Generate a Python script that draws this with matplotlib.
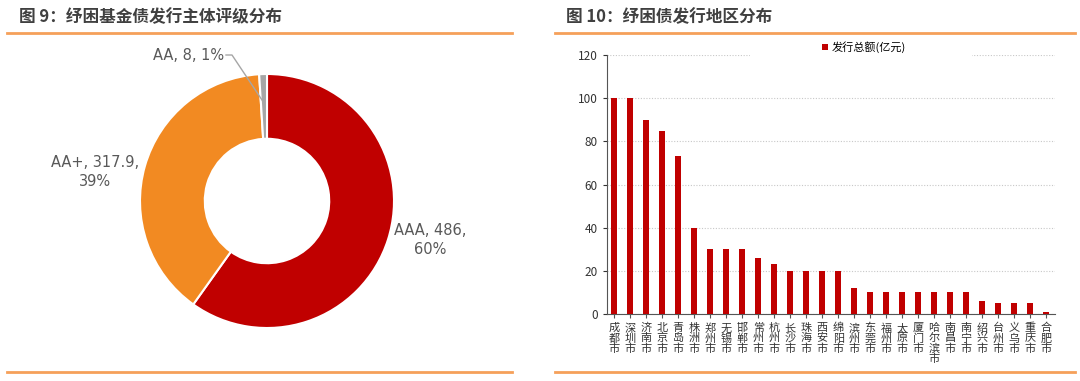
import numpy as np
import matplotlib.pyplot as plt
from matplotlib.patches import Rectangle
from matplotlib.lines import Line2D

plt.rcParams['font.family'] = ['Noto Sans CJK SC', 'DejaVu Sans']

# ------------------------------------------------------------
# data
# ------------------------------------------------------------
rating_names = ['AAA', 'AA+', 'AA']
rating_values = [486, 317.9, 8]
rating_pct = ['60%', '39%', '1%']
rating_colors = ['#C00000', '#F28A22', '#A6A6A6']

cities = ['成都市', '深圳市', '济南市', '北京市', '青岛市', '株洲市', '郑州市',
          '无锡市', '邯郸市', '常州市', '杭州市', '长沙市', '珠海市', '西安市',
          '绵阳市', '滨州市', '东莞市', '福州市', '太原市', '厦门市', '哈尔滨市',
          '南昌市', '南宁市', '绍兴市', '台州市', '义乌市', '重庆市', '合肥市']
amounts = [100, 100, 90, 85, 73, 40, 30, 30, 30, 26, 23, 20, 20, 20,
           20, 12, 10, 10, 10, 10, 10, 10, 10, 6, 5, 5, 5, 1]

W, H = 1080, 381
fig = plt.figure(figsize=(W / 100, H / 100), dpi=100)
title_c = '#404040'
line_c = '#F5A05A'


def px_axes(x0, y0, x1, y1):
    # pixel box (top-left origin) -> figure axes
    return fig.add_axes([x0 / W, 1 - y1 / H, (x1 - x0) / W, (y1 - y0) / H])


# titles and orange rules
fig.text(19 / W, 1 - 17 / H, '图 9：纾困基金债发行主体评级分布', fontsize=12,
         fontweight='bold', color=title_c, va='center', ha='left')
fig.text(566 / W, 1 - 17 / H, '图 10：纾困债发行地区分布', fontsize=12,
         fontweight='bold', color=title_c, va='center', ha='left')
for (a, b) in [(7, 512), (555, 1075)]:
    for y in (33, 372):
        fig.add_artist(Line2D([a / W, b / W], [1 - y / H, 1 - y / H],
                              color=line_c, lw=2, transform=fig.transFigure))

# ------------------------------------------------------------
# donut
# ------------------------------------------------------------
cx, cy, r = 267, 201, 127
ax1 = px_axes(cx - r, cy - r, cx + r, cy + r)
ax1.pie(rating_values, colors=rating_colors, startangle=90, counterclock=False,
        radius=1.0, wedgeprops=dict(width=0.51, edgecolor='white', linewidth=1.5))
ax1.set_xlim(-1, 1)
ax1.set_ylim(-1, 1)
ax1.set_aspect('equal')
ax1.axis('off')

lab_c = '#595959'
fig.text(430 / W, 1 - 240 / H, f'{rating_names[0]}, {rating_values[0]:g},\n{rating_pct[0]}',
         fontsize=10.5, color=lab_c, ha='center', va='center', family='DejaVu Sans',
         linespacing=1.3)
fig.text(95 / W, 1 - 172 / H, f'{rating_names[1]}, {rating_values[1]:g},\n{rating_pct[1]}',
         fontsize=10.5, color=lab_c, ha='center', va='center', family='DejaVu Sans',
         linespacing=1.3)
fig.text(189 / W, 1 - 55 / H, f'{rating_names[2]}, {rating_values[2]:g}, {rating_pct[2]}',
         fontsize=10.5, color=lab_c, ha='center', va='center', family='DejaVu Sans')
fig.add_artist(Line2D([226 / W, 232 / W, 264 / W], [1 - 55 / H, 1 - 55 / H, 1 - 103 / H],
                      color='#A6A6A6', lw=1, transform=fig.transFigure))

# ------------------------------------------------------------
# bar chart
# ------------------------------------------------------------
ax2 = px_axes(607, 55, 1055, 314)
x = np.arange(len(cities))
ax2.bar(x, amounts, width=0.4, color='#C00000', label='发行总额(亿元)', zorder=3)
ax2.set_xlim(-0.45, len(cities) - 0.45)
ax2.set_ylim(0, 120)
ax2.set_yticks(range(0, 121, 20))
ax2.tick_params(axis='y', labelsize=8.5, colors='#333333', length=3, width=0.8)
ax2.tick_params(axis='x', length=3, width=0.8, colors='#555555')
ax2.set_xticks(x)
ax2.set_xticklabels(['\n'.join(c) for c in cities], fontsize=8, color='#333333',
                    linespacing=1.0, va='top')
for lbl in ax2.get_yticklabels():
    lbl.set_color('#333333')
ax2.yaxis.grid(True, ls=(0, (1, 1.5)), color='#C8C8C8', lw=0.8, zorder=0)
for s in ['top', 'right']:
    ax2.spines[s].set_visible(False)
ax2.spines['left'].set_color('#555555')
ax2.spines['bottom'].set_color('#555555')

# white legend area covering part of the top gridline
ax2.add_patch(Rectangle((750 / W, 1 - 62 / H), 222 / W, 26 / H, facecolor='white',
                        edgecolor='none', transform=fig.transFigure, zorder=4,
                        clip_on=False))
leg = ax2.legend(loc='center', bbox_to_anchor=((864 - 607) / 448, 1 + 8 / 259),
                 frameon=False, fontsize=8, handlelength=0.55, handleheight=0.55,
                 borderpad=0.2, handletextpad=0.35)
leg.set_zorder(6)

fig.savefig('out.png', dpi=100)
